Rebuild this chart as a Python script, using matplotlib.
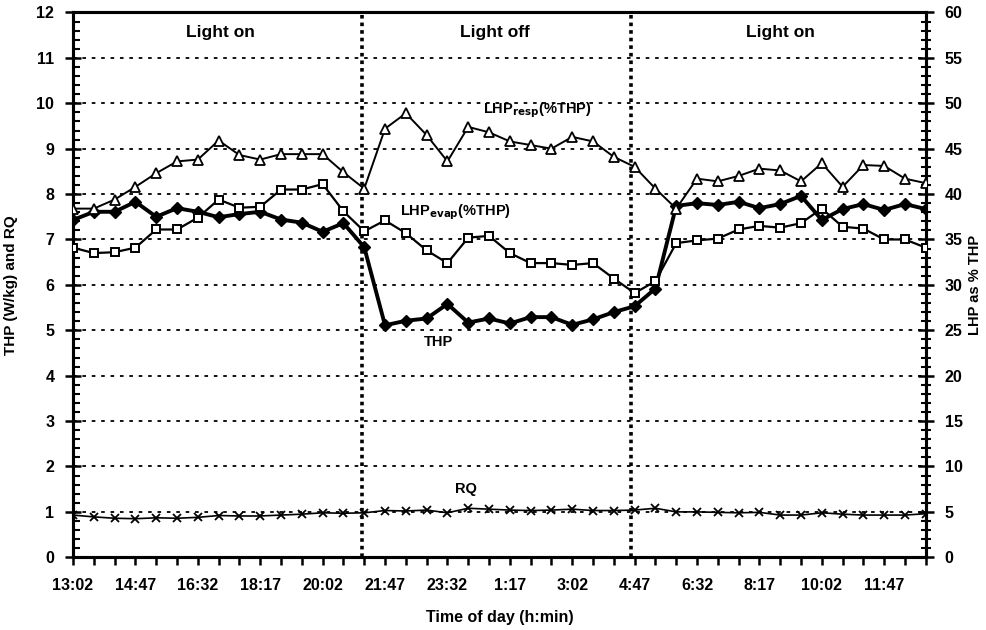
"""Heat production and RQ over a light/dark cycle."""

import matplotlib
matplotlib.use("Agg")
import matplotlib.pyplot as plt
from matplotlib.ticker import MultipleLocator

plt.rcParams['font.family'] = ['Liberation Sans', 'DejaVu Sans']
plt.rcParams['font.weight'] = 'bold'
plt.rcParams['axes.labelweight'] = 'bold'

# data (one point every 35 min, 13:02 -> 12:57)
thp = [7.43, 7.61, 7.61, 7.83, 7.50, 7.69, 7.61, 7.49, 7.56, 7.61,
       7.44, 7.37, 7.17, 7.36, 6.83, 5.11, 5.21, 5.26, 5.58, 5.17,
       5.26, 5.15, 5.29, 5.29, 5.12, 5.24, 5.40, 5.53, 5.92, 7.74,
       7.80, 7.76, 7.83, 7.69, 7.78, 7.96, 7.43, 7.67, 7.78, 7.65,
       7.78, 7.67]
lhp_resp = [38.4, 38.4, 39.4, 40.8, 42.3, 43.6, 43.8, 45.9, 44.3, 43.8,
            44.4, 44.4, 44.4, 42.4, 40.6, 47.2, 48.9, 46.5, 43.6, 47.4,
            46.8, 45.8, 45.4, 45.0, 46.3, 45.8, 44.1, 43.0, 40.6, 38.4,
            41.7, 41.4, 42.0, 42.8, 42.6, 41.4, 43.4, 40.8, 43.2, 43.1,
            41.7, 41.2]
lhp_evap = [34.1, 33.5, 33.6, 34.1, 36.1, 36.1, 37.4, 39.4, 38.5, 38.6,
            40.5, 40.5, 41.1, 38.1, 35.9, 37.1, 35.7, 33.8, 32.4, 35.2,
            35.4, 33.5, 32.4, 32.4, 32.2, 32.4, 30.7, 29.1, 30.4, 34.6,
            34.9, 35.1, 36.1, 36.5, 36.3, 36.8, 38.4, 36.4, 36.2, 35.0,
            35.0, 34.1]
rq = [0.93, 0.89, 0.86, 0.85, 0.87, 0.86, 0.88, 0.92, 0.91, 0.91,
      0.93, 0.95, 0.98, 0.97, 0.98, 1.03, 1.02, 1.04, 0.98, 1.08,
      1.06, 1.04, 1.03, 1.04, 1.06, 1.03, 1.03, 1.04, 1.08, 1.00,
      1.00, 0.99, 0.98, 0.99, 0.93, 0.93, 0.98, 0.95, 0.93, 0.93,
      0.93, 0.96]
tick_labels = ["13:02", "14:47", "16:32", "18:17", "20:02", "21:47", "23:32",
               "1:17", "3:02", "4:47", "6:32", "8:17", "10:02", "11:47"]
light_changes = [13.9, 26.85]
phases = ["Light on", "Light off", "Light on"]
phase_x = [7.1, 20.3, 34.0]

x = list(range(len(thp)))

fig = plt.figure(figsize=(9.87, 6.3), dpi=100)
ax = fig.add_axes([0.074, 0.1154, 0.864, 0.8648])
ax2 = ax.twinx()

ax.set_xlim(0, len(thp) - 1)
ax.set_ylim(0, 12)
ax2.set_ylim(0, 60)

# grid and light phase separators
for yv in range(1, 12):
    ax.axhline(yv, color='black', lw=1.3, ls=(0, (2, 3.2)), zorder=1)
for xv in light_changes:
    ax.axvline(xv, color='black', lw=2.6, ls=(0, (1, 1.1)), zorder=1)

ax.plot(x, rq, color='black', lw=1.2, marker='x', ms=6, mew=1.3, zorder=3)
ax.plot(x, thp, color='black', lw=2.8, marker='D', ms=6, mfc='black', zorder=4)
ax2.plot(x, lhp_resp, color='black', lw=1.4, marker='^', ms=6.5,
         mfc='white', mew=1.3, zorder=3)
ax2.plot(x, lhp_evap, color='black', lw=1.6, marker='s', ms=6,
         mfc='white', mew=1.4, zorder=3)

# annotations
for name, px in zip(phases, phase_x):
    ax.text(px, 11.55, name, ha='center', va='center', fontsize=12.5)
ax.text(22.3, 9.85, r"LHP$_{\mathbf{resp}}$(%THP)", ha='center', va='center', fontsize=10.5)
ax.text(18.4, 7.61, r"LHP$_{\mathbf{evap}}$(%THP)", ha='center', va='center', fontsize=10.5)
ax.text(17.55, 4.75, "THP", ha='center', va='center', fontsize=10.5)
ax.text(18.9, 1.5, "RQ", ha='center', va='center', fontsize=10.5)

# axes styling
for a in (ax, ax2):
    for s in a.spines.values():
        s.set_linewidth(2.2)

ax.set_xticks(x, minor=True)
ax.set_xticks(x[::3])
ax.set_xticklabels(tick_labels)
ax.tick_params(axis='x', which='both', direction='out', length=6, width=1.8,
               pad=9, labelsize=11.5)
ax.yaxis.set_major_locator(MultipleLocator(1))
ax.yaxis.set_minor_locator(MultipleLocator(0.2))
ax.tick_params(axis='y', which='major', direction='inout', length=11, width=1.8,
               pad=8, labelsize=11.5)
ax.tick_params(axis='y', which='minor', direction='in', length=5, width=1.5)

ax2.yaxis.set_major_locator(MultipleLocator(5))
ax2.yaxis.set_minor_locator(MultipleLocator(1))
ax2.tick_params(axis='y', which='major', direction='inout', length=11, width=1.8,
                pad=8, labelsize=11.5)
ax2.tick_params(axis='y', which='minor', direction='inout', length=7, width=1.5)

ax.set_xlabel("Time of day (h:min)", fontsize=11.5, labelpad=12)
ax.set_ylabel("THP (W/kg) and RQ", fontsize=11)
ax.yaxis.set_label_coords(-0.064, 0.5)
ax2.set_ylabel("LHP as % THP", fontsize=10.5, rotation=90)
ax2.yaxis.set_label_coords(1.05, 0.5)

fig.savefig("out.png", dpi=100)
